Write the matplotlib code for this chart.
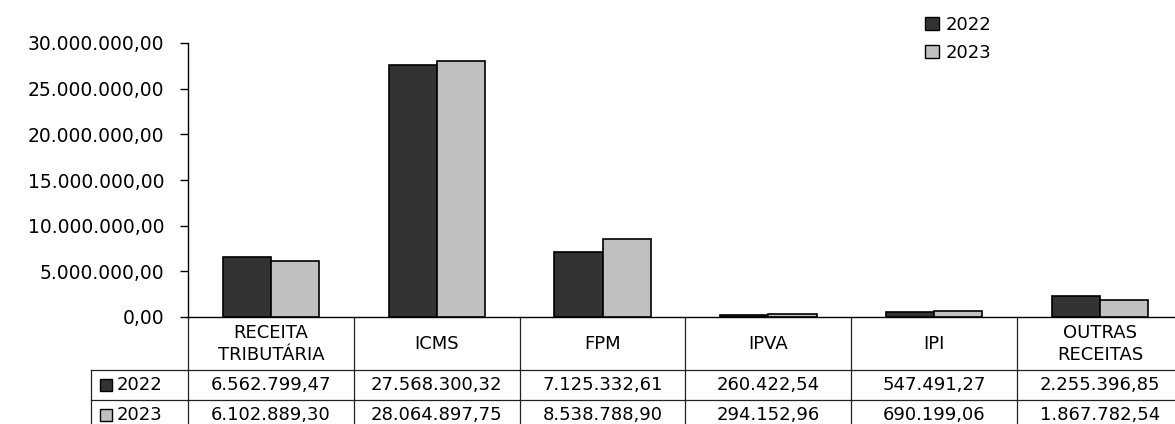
import matplotlib
matplotlib.use("Agg")
import matplotlib.pyplot as plt
from matplotlib.patches import Patch
from matplotlib.transforms import blended_transform_factory
import numpy as np

categories = ["RECEITA\nTRIBUTÁRIA", "ICMS", "FPM", "IPVA", "IPI", "OUTRAS\nRECEITAS"]
years = ["2022", "2023"]
values_2022 = [6562799.47, 27568300.32, 7125332.61, 260422.54, 547491.27, 2255396.85]
values_2023 = [6102889.30, 28064897.75, 8538788.90, 294152.96, 690199.06, 1867782.54]
y_ticks = [0, 5000000, 10000000, 15000000, 20000000, 25000000, 30000000]

colors = ["#333333", "#c0c0c0"]
plt.rcParams['font.family'] = ['DejaVu Sans']
fs = 13


def br(v):
    # brazilian number format 1.234.567,89
    return f"{v:,.2f}".replace(",", "X").replace(".", ",").replace("X", ".")


W, H = 1175, 424
fig = plt.figure(figsize=(W / 100, H / 100), dpi=100)

# plot area in pixel terms (right edge runs past the figure, as in the source)
left, right, top, bottom = 188, 1183, 43, 317
ax = fig.add_axes([left / W, 1 - bottom / H, (right - left) / W, (bottom - top) / H])

x = np.arange(len(categories))
bw = 0.29
series = [values_2022, values_2023]
for i, vals in enumerate(series):
    ax.bar(x + (i - 0.5) * bw, vals, width=bw, color=colors[i],
           edgecolor="black", linewidth=1.2, zorder=3)

ax.set_xlim(-0.5, len(categories) - 0.5)
ax.set_ylim(0, 30000000)
ax.set_yticks(y_ticks)
ax.set_yticklabels([br(v) for v in y_ticks], fontsize=13.5)
ax.tick_params(axis="y", direction="out", length=6, width=1, pad=11, colors="black")
ax.set_xticks([])
for s in ["top", "right"]:
    ax.spines[s].set_visible(False)
for s in ["left", "bottom"]:
    ax.spines[s].set_linewidth(1.0)
    ax.spines[s].set_color("black")

# data table below the axes
tr = blended_transform_factory(ax.transData, fig.transFigure)
fy = lambda py: 1 - py / H
x_lab = -0.5 - (left - 91) / 166.0
row_lines = [370, 400]
row_mid = [385, 415]
tab_bottom = 432

for py in row_lines:
    ax.plot([x_lab, len(categories)], [fy(py), fy(py)], color="#222222", lw=0.9,
            transform=tr, clip_on=False)
ax.plot([x_lab, x_lab], [fy(370), fy(tab_bottom)], color="#222222", lw=0.9,
        transform=tr, clip_on=False)
for b in np.arange(len(categories)) - 0.5:
    ax.plot([b, b], [fy(bottom), fy(tab_bottom)], color="#222222", lw=0.9,
            transform=tr, clip_on=False)

for i, c in enumerate(categories):
    ax.text(i, fy(344), c, ha="center", va="center", fontsize=fs,
            linespacing=1.35, transform=tr)

for r, vals in enumerate(series):
    for i, v in enumerate(vals):
        ax.text(i, fy(row_mid[r]), br(v), ha="center", va="center",
                fontsize=fs, transform=tr)
    ax.plot([x_lab + 0.09], [fy(row_mid[r])], marker="s", markersize=8,
            markerfacecolor=colors[r], markeredgecolor="black",
            markeredgewidth=1.0, transform=tr, clip_on=False)
    ax.text(x_lab + 0.155, fy(row_mid[r]), years[r], ha="left", va="center",
            fontsize=fs, transform=tr)

handles = [Patch(facecolor=colors[i], edgecolor="black", linewidth=1.0, label=years[i])
           for i in range(2)]
fig.legend(handles=handles, loc="upper left", bbox_to_anchor=(916 / W, 1 - 7 / H),
           frameon=False, fontsize=fs, handlelength=0.75, handleheight=0.75,
           handletextpad=0.4, labelspacing=0.55, borderpad=0)

fig.savefig("out.png", dpi=100)
